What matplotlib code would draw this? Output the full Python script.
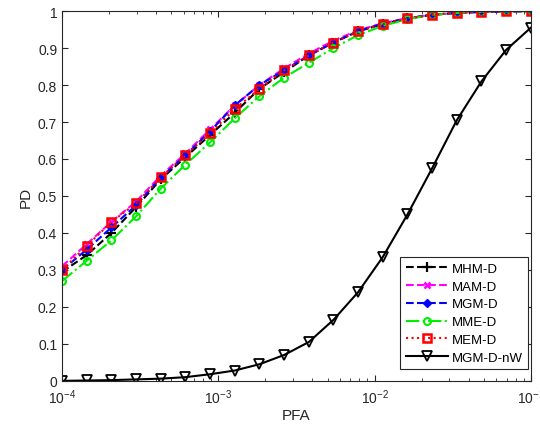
import numpy as np
import matplotlib
matplotlib.use('Agg')
import matplotlib.pyplot as plt

plt.rcParams['font.family'] = ['Liberation Sans', 'DejaVu Sans']

# false alarm probabilities (20 points, log spaced 1e-4 .. 1e-1)
pfa = np.logspace(-4, -1, 20)

pd_mhm = [0.295, 0.340, 0.400, 0.470, 0.545, 0.605, 0.665, 0.725, 0.790, 0.835,
          0.880, 0.915, 0.945, 0.965, 0.980, 0.990, 0.995, 0.998, 0.999, 1.000]
pd_mam = [0.310, 0.370, 0.430, 0.485, 0.555, 0.615, 0.680, 0.745, 0.800, 0.845,
          0.885, 0.920, 0.948, 0.967, 0.981, 0.990, 0.995, 0.998, 0.999, 1.000]
pd_mgm = [0.300, 0.355, 0.415, 0.475, 0.550, 0.610, 0.675, 0.745, 0.800, 0.840,
          0.880, 0.915, 0.946, 0.966, 0.980, 0.990, 0.995, 0.998, 0.999, 1.000]
pd_mme = [0.270, 0.325, 0.380, 0.445, 0.520, 0.585, 0.645, 0.710, 0.770, 0.820,
          0.860, 0.900, 0.935, 0.960, 0.978, 0.990, 0.995, 0.998, 0.999, 1.000]
pd_mem = [0.300, 0.365, 0.430, 0.480, 0.550, 0.610, 0.670, 0.735, 0.790, 0.840,
          0.880, 0.915, 0.945, 0.965, 0.980, 0.990, 0.995, 0.998, 0.999, 1.000]
pd_nw = [0.000, 0.001, 0.002, 0.004, 0.006, 0.010, 0.018, 0.028, 0.045, 0.070,
         0.105, 0.165, 0.240, 0.335, 0.450, 0.575, 0.705, 0.810, 0.895, 0.955]

fig = plt.figure(figsize=(5.4, 4.31), dpi=100)
ax = fig.add_axes([0.115, 0.114, 0.868, 0.858])

lw = 1.5
ax.semilogx(pfa, pd_mhm, '--', color='k', marker='+', ms=7, mew=1.6, lw=lw, label='MHM-D')
ax.semilogx(pfa, pd_mam, '--', color='#ff00ff', marker='x', ms=4.5, mew=1.8, lw=lw, label='MAM-D')
ax.semilogx(pfa, pd_mgm, '--', color='#0000ff', marker='D', ms=4, lw=lw, label='MGM-D')
ax.semilogx(pfa, pd_mme, '-.', color='#00ee00', marker='o', ms=5, mfc='none', mew=1.5, lw=lw, label='MME-D')
ax.semilogx(pfa, pd_mem, ':', color='#ff0000', marker='s', ms=5.5, mfc='none', mew=1.8, lw=lw, label='MEM-D')
ax.semilogx(pfa, pd_nw, '-', color='k', marker='v', ms=6.5, mfc='none', mew=1.3, lw=lw, label='MGM-D-nW')

ax.set_xlim(1e-4, 1e-1)
ax.set_ylim(0, 1)
ax.set_yticks(np.arange(0, 1.01, 0.1))
ax.set_yticklabels(['0', '0.1', '0.2', '0.3', '0.4', '0.5', '0.6', '0.7', '0.8', '0.9', '1'])
ax.set_xlabel('PFA', fontsize=11, color='#262626', labelpad=1)
ax.set_ylabel('PD', fontsize=11, color='#262626', labelpad=4)

ax.tick_params(which='both', direction='in', top=True, right=True, labelsize=10, colors='#262626')
ax.tick_params(which='major', length=4)
ax.tick_params(which='minor', length=2.5)
ax.tick_params(axis='x', pad=5)
for s in ax.spines.values():
    s.set_color('#262626')
    s.set_linewidth(0.8)

leg = ax.legend(loc='lower right', bbox_to_anchor=(0.994, 0.032), borderaxespad=0,
                fontsize=9.5, fancybox=False, edgecolor='#262626', framealpha=1,
                handlelength=3.2, handletextpad=0.3, labelspacing=0.42)
leg.get_frame().set_linewidth(0.8)

fig.savefig('out.png', dpi=100)
